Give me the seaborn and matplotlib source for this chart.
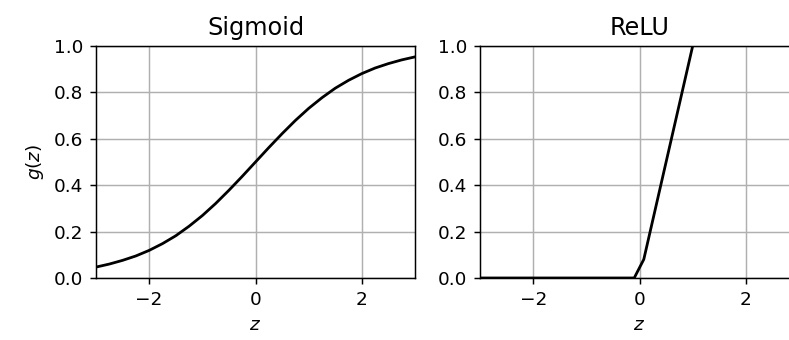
import matplotlib
matplotlib.use("Agg")
import matplotlib.pyplot as plt
import seaborn as sns

# values
sig_z = [-3.0, -2.75, -2.5, -2.25, -2.0, -1.75, -1.5, -1.25, -1.0, -0.75, -0.5, -0.25,
         0.0, 0.25, 0.5, 0.75, 1.0, 1.25, 1.5, 1.75, 2.0, 2.25, 2.5, 2.75, 3.0]
sig_g = [0.047, 0.060, 0.076, 0.095, 0.119, 0.148, 0.182, 0.223, 0.269, 0.321, 0.378, 0.438,
         0.500, 0.562, 0.622, 0.679, 0.731, 0.777, 0.818, 0.852, 0.881, 0.905, 0.924, 0.940, 0.953]

relu_z = [-3.0, -0.1, 0.08, 1.0, 3.0]
relu_g = [0.0, 0.0, 0.08, 1.0, 3.0]

titles = ["Sigmoid", "ReLU"]

DPI = 133
fig = plt.figure(figsize=(789 / DPI, 340 / DPI), dpi=DPI)
ax1 = fig.add_axes([0.1217, 0.1824, 0.4043, 0.6824])
ax2 = fig.add_axes([0.6084, 0.1824, 0.4043, 0.6824])

sns.lineplot(x=sig_z, y=sig_g, ax=ax1, color="black", linewidth=1.5)
sns.lineplot(x=relu_z, y=relu_g, ax=ax2, color="black", linewidth=1.5)

for ax, t in zip([ax1, ax2], titles):
    ax.set_xlim(-3, 3)
    ax.set_ylim(0, 1)
    ax.set_xticks([-2, 0, 2])
    ax.set_yticks([0.0, 0.2, 0.4, 0.6, 0.8, 1.0])
    ax.grid(True, color="#b0b0b0", linewidth=0.8)
    ax.set_title(t, fontsize=13)
    ax.set_xlabel("$z$", fontsize=10)
    ax.tick_params(labelsize=10)

ax1.set_ylabel("$g(z)$", fontsize=10)

fig.savefig("out.png", dpi=DPI)
